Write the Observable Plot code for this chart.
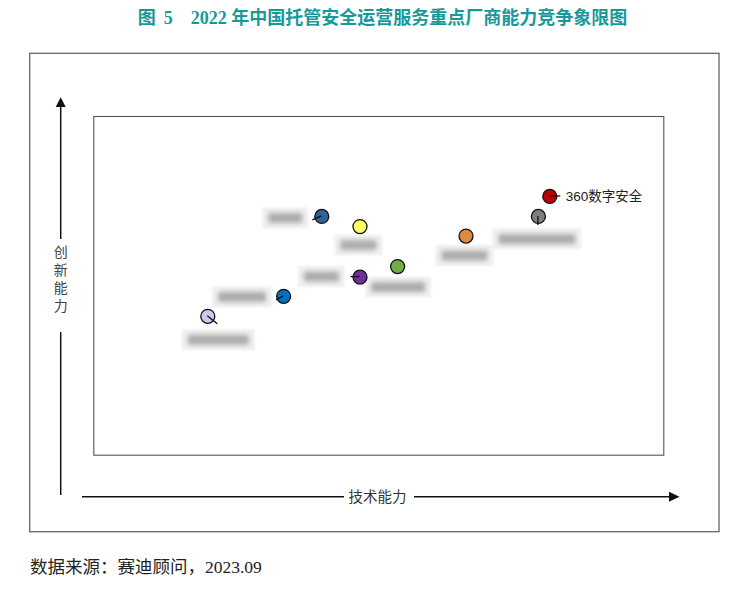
<!DOCTYPE html>
<html><head><meta charset="utf-8">
<script src="https://cdn.jsdelivr.net/npm/d3@7"></script>
<script src="https://cdn.jsdelivr.net/npm/@observablehq/plot@0.6"></script>
<style>
body{margin:0;background:#fff;width:735px;}
#title{height:40px;line-height:36px;text-align:center;padding-left:30px;box-sizing:border-box;color:#17999a;font-family:"Liberation Serif","Noto Sans CJK SC",serif;font-weight:bold;font-size:18px;white-space:pre;}
#title .gap{display:inline-block;width:18px;}
#title .gap1{display:inline-block;width:8px;}
#caption{height:36px;line-height:34px;padding-left:30px;color:#222;font-family:"Liberation Serif","Noto Sans CJK SC",serif;font-size:17.5px;}
#chart svg{display:block;}
</style>
</head><body>
<div id="title">图<span class="gap1"></span>5<span class="gap"></span>2022 年中国托管安全运营服务重点厂商能力竞争象限图</div>
<div id="chart"></div>
<div id="caption">数据来源：赛迪顾问，2023.09</div>
<script>
// Vendors (only the first name is legible in the reference; the others are blurred)
const vendors = ["360数字安全","厂商2","厂商3","厂商4","厂商5","厂商6","厂商7","厂商8","厂商9"];
const tech    = [8.00, 7.80, 6.53, 5.33, 4.67, 4.67, 4.00, 3.33, 2.00];   // 技术能力
const innov   = [7.64, 7.05, 6.47, 5.57, 6.75, 5.26, 7.05, 4.69, 4.10];   // 创新能力
const shownLabel = [true, false, false, false, false, false, false, false, false];

// styles
const colors = ["#c00000","#7f7f7f","#dc8a40","#70ad47","#ffff66","#7030a0","#2f6496","#0070c0","#c9c9f2"];
// leader line offsets (px) and blurred-label boxes (px offset from dot, width)
const leaderDx = [11, 0, 0, 0, 0, -9, -9, -7, 10];
const leaderDy = [0, 9, 0, 0, 0, 0, 4, 4, 8];
const boxDx = [0, -1, -1, 1, -1, -38, -36, -41, 11];
const boxDy = [0, 23, 20, 21, 19, 0, 2, 1, 24];
const boxW  = [0, 89, 58, 66, 48, 47, 46, 60, 73];

const data = vendors.map((v, i) => ({vendor: v, tech: tech[i], innov: innov[i], shown: shownLabel[i]}));

const W = 735, H = 510;
const plot = Plot.plot({
  width: W, height: H,
  marginLeft: 93.3, marginRight: 71.7, marginTop: 76, marginBottom: 95.3,
  x: {domain: [0, 10], axis: null},
  y: {domain: [0, 10], axis: null},
  color: {domain: vendors, range: colors},
  marks: [
    Plot.frame({stroke: "#555", strokeWidth: 1.1}),
    Plot.dot(data, {x: "tech", y: "innov", r: 7, fill: "vendor", stroke: "#111", strokeWidth: 1.3}),
    Plot.text(data.filter(d => d.shown), {x: "tech", y: "innov", text: "vendor", dx: 16, textAnchor: "start",
      fontSize: 13.5, fill: "#222", fontFamily: "'Liberation Sans','Noto Sans CJK SC',sans-serif"})
  ]
});
document.getElementById("chart").append(plot);

const svg = d3.select(plot);
const sx = plot.scale("x"), sy = plot.scale("y");

const defs = svg.append("defs");
defs.append("filter").attr("id", "b1").attr("x", "-20%").attr("y", "-50%").attr("width", "140%").attr("height", "200%")
  .append("feGaussianBlur").attr("stdDeviation", 1.2);
defs.append("filter").attr("id", "b2").attr("x", "-30%").attr("y", "-100%").attr("width", "160%").attr("height", "300%")
  .append("feGaussianBlur").attr("stdDeviation", 2.8);

// blurred labels under the dots
const blobs = svg.insert("g", "g[aria-label='dot']");
data.forEach((d, i) => {
  if (d.shown || !boxW[i]) return;
  const cx = sx.apply(d.tech) + boxDx[i], cy = sy.apply(d.innov) + boxDy[i];
  blobs.append("rect").attr("x", cx - boxW[i] / 2).attr("y", cy - 10.5).attr("width", boxW[i]).attr("height", 21)
    .attr("fill", "#f1f1f1").attr("filter", "url(#b1)");
  blobs.append("rect").attr("x", cx - boxW[i] / 2 + 6).attr("y", cy - 5).attr("width", boxW[i] - 12).attr("height", 10)
    .attr("fill", "#ababab").attr("filter", "url(#b2)");
});

// leader lines on top of dots
const leaders = svg.append("g").attr("stroke", "#111").attr("stroke-width", 1.3);
data.forEach((d, i) => {
  if (!leaderDx[i] && !leaderDy[i]) return;
  const x0 = sx.apply(d.tech), y0 = sy.apply(d.innov);
  leaders.append("line").attr("x1", x0).attr("y1", y0).attr("x2", x0 + leaderDx[i]).attr("y2", y0 + leaderDy[i]);
});

// outer frame
svg.append("rect").attr("x", 29.7).attr("y", 13.3).attr("width", 719 - 29.7).attr("height", 491.7 - 13.3)
  .attr("fill", "none").attr("stroke", "#666").attr("stroke-width", 1.3);

// axis arrows
const ax = svg.append("g").attr("stroke", "#111").attr("stroke-width", 1.5);
const yx = 60.7;
ax.append("line").attr("x1", yx).attr("x2", yx).attr("y1", 66).attr("y2", 199);
ax.append("line").attr("x1", yx).attr("x2", yx).attr("y1", 292).attr("y2", 455);
svg.append("path").attr("d", `M${yx},57.3 L${yx - 5},67 L${yx + 5},67 Z`).attr("fill", "#111");
const xy = 456.7;
ax.append("line").attr("x1", 82).attr("x2", 344).attr("y1", xy).attr("y2", xy);
ax.append("line").attr("x1", 414).attr("x2", 670).attr("y1", xy).attr("y2", xy);
svg.append("path").attr("d", `M679.5,${xy} L669,${xy - 5} L669,${xy + 5} Z`).attr("fill", "#111");

const lblFont = "'Noto Sans CJK SC',sans-serif";
svg.append("text").attr("x", 377.5).attr("y", xy).attr("dy", "0.35em").attr("text-anchor", "middle")
  .attr("font-family", lblFont).attr("font-size", 14.5).attr("fill", "#333").text("技术能力");
// vertical axis title as one vertical text
svg.append("text").attr("x", yx).attr("y", 205).attr("text-anchor", "start")
  .style("writing-mode", "vertical-rl").style("text-orientation", "upright").style("letter-spacing", "4px")
  .attr("font-family", lblFont).attr("font-size", 14).attr("fill", "#444").text("创新能力");
</script>
</body></html>
